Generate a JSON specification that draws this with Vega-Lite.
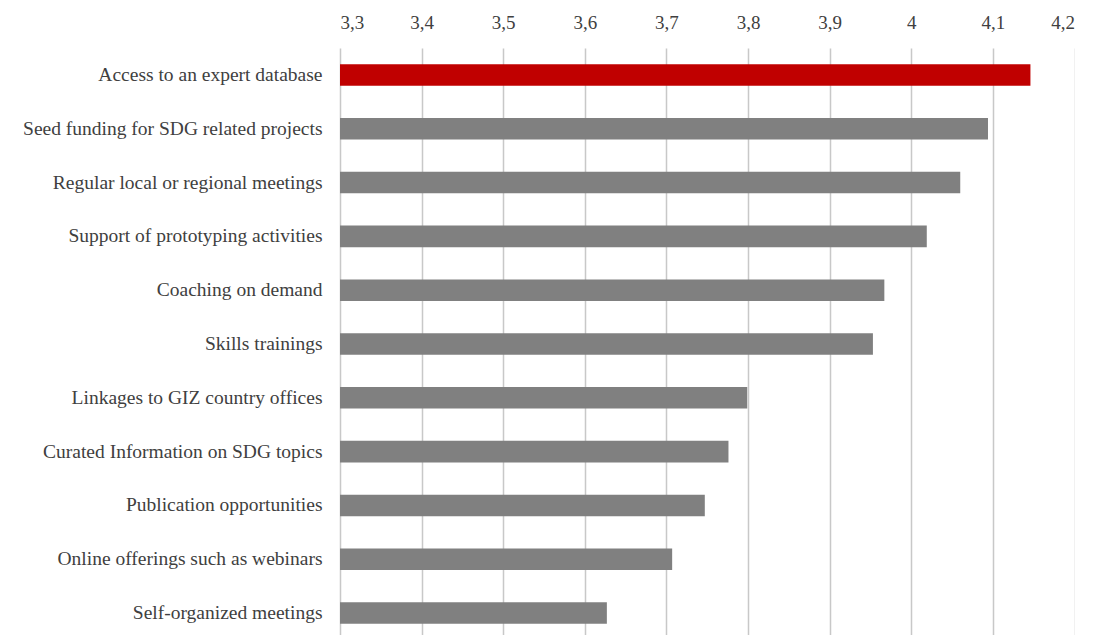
{
  "$schema": "https://vega.github.io/schema/vega-lite/v6.json",
  "width": 734.5,
  "height": 592,
  "autosize": {"type": "none"},
  "padding": {"left": 340, "top": 48, "right": 0, "bottom": 0},
  "background": "white",
  "data": {
    "values": [
      {"item": "Access to an expert database", "score": 4.146, "highlight": "yes"},
      {"item": "Seed funding for SDG related projects", "score": 4.094, "highlight": "no"},
      {"item": "Regular local or regional meetings", "score": 4.060, "highlight": "no"},
      {"item": "Support of prototyping activities", "score": 4.019, "highlight": "no"},
      {"item": "Coaching on demand", "score": 3.967, "highlight": "no"},
      {"item": "Skills trainings", "score": 3.953, "highlight": "no"},
      {"item": "Linkages to GIZ country offices", "score": 3.799, "highlight": "no"},
      {"item": "Curated Information on SDG topics", "score": 3.776, "highlight": "no"},
      {"item": "Publication opportunities", "score": 3.747, "highlight": "no"},
      {"item": "Online offerings such as webinars", "score": 3.707, "highlight": "no"},
      {"item": "Self-organized meetings", "score": 3.627, "highlight": "no"}
    ]
  },
  "mark": {"type": "bar", "clip": true},
  "encoding": {
    "y": {
      "field": "item",
      "type": "nominal",
      "sort": null,
      "scale": {"paddingInner": 0.6, "paddingOuter": 0.3},
      "axis": {
        "title": null,
        "domain": false,
        "ticks": false,
        "labelPadding": 18,
        "labelFont": "Liberation Serif",
        "labelFontSize": 19.5,
        "labelColor": "#404040",
        "labelLimit": 400
      }
    },
    "x": {
      "field": "score",
      "type": "quantitative",
      "scale": {"domain": [3.3, 4.2], "nice": false, "zero": false},
      "axis": {
        "orient": "top",
        "title": null,
        "domain": false,
        "ticks": false,
        "values": [3.3, 3.4, 3.5, 3.6, 3.7, 3.8, 3.9, 4.0, 4.1, 4.2],
        "labelExpr": "replace(format(datum.value, '.2~f'), '.', ',')",
        "labelPadding": 16,
        "labelFont": "Liberation Serif",
        "labelFontSize": 19,
        "labelColor": "#404040",
        "grid": true,
        "gridColor": "#c8c8c8",
        "gridWidth": 1.5
      }
    },
    "color": {
      "field": "highlight",
      "type": "nominal",
      "scale": {"domain": ["yes", "no"], "range": ["#c00000", "#808080"]},
      "legend": null
    }
  },
  "config": {"view": {"stroke": null}}
}
